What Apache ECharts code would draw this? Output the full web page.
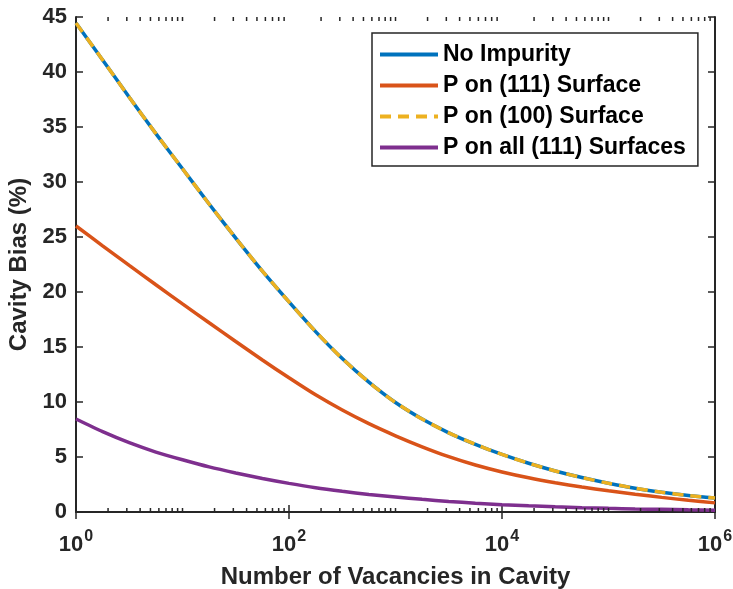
<!DOCTYPE html>
<html>
<head>
<meta charset="utf-8">
<script src="https://cdn.jsdelivr.net/npm/echarts/dist/echarts.min.js"></script>
<style>
html,body{margin:0;padding:0;background:#fff;}
#chart{width:733px;height:589px;}
</style>
</head>
<body>
<div id="chart"></div>
<script>
// Number of vacancies (x values, log scale)
const vacancies = [1, 1.778, 3.162, 5.623, 10, 17.78, 31.62, 56.23, 100, 177.8, 316.2, 562.3,
  1000, 1778, 3162, 5623, 10000, 17783, 31623, 56234, 100000, 177828, 316228, 562341, 1000000];
const noImpurity = [44.45, 41.1, 37.7, 34.4, 31.2, 28.0, 24.9, 21.9, 19.1, 16.4, 13.95, 11.8,
  9.95, 8.45, 7.2, 6.15, 5.23, 4.43, 3.73, 3.13, 2.61, 2.16, 1.8, 1.5, 1.27];
const pOn111 = [26.0, 24.2, 22.42, 20.66, 18.92, 17.2, 15.5, 13.82, 12.2, 10.65, 9.27, 8.03,
  6.93, 5.93, 5.03, 4.27, 3.64, 3.11, 2.66, 2.27, 1.93, 1.62, 1.33, 1.06, 0.83];
const pOn100 = [44.45, 41.1, 37.7, 34.4, 31.2, 28.0, 24.9, 21.9, 19.1, 16.4, 13.95, 11.8,
  9.95, 8.45, 7.2, 6.15, 5.23, 4.43, 3.73, 3.13, 2.61, 2.16, 1.8, 1.5, 1.27];
const pOnAll111 = [8.45, 7.3, 6.3, 5.45, 4.75, 4.1, 3.55, 3.05, 2.6, 2.2, 1.88, 1.6,
  1.37, 1.15, 0.96, 0.8, 0.67, 0.56, 0.47, 0.39, 0.33, 0.28, 0.24, 0.2, 0.17];
const seriesNames = ['No Impurity', 'P on (111) Surface', 'P on (100) Surface', 'P on all (111) Surfaces'];
const seriesColors = ['#0072BD', '#D95319', '#EDB120', '#7E2F8E'];

// Axis ticks
const xMajorTicks = [1, 100, 10000, 1000000];
const xMinorTicks = [2,3,4,5,6,7,8,9, 10,20,30,40,50,60,70,80,90,
  200,300,400,500,600,700,800,900, 1000,2000,3000,4000,5000,6000,7000,8000,9000,
  20000,30000,40000,50000,60000,70000,80000,90000,
  100000,200000,300000,400000,500000,600000,700000,800000,900000];
const yMin = 0, yMax = 45, yStep = 5;

const FONT = "'Liberation Sans', Arial, Helvetica, sans-serif";
const AX = '#262626';

function pairs(xs, ys) { return xs.map((x, i) => [x, ys[i]]); }

const chart = echarts.init(document.getElementById('chart'), null, {renderer: 'canvas'});

const lineBase = {
  type: 'line', showSymbol: false, symbol: 'none', smooth: 0.25,
  xAxisIndex: 0, yAxisIndex: 0, animation: false
};

const xAxisCommon = {
  type: 'log', logBase: 10, min: 1, max: 1000000,
  splitLine: {show: false},
  axisLine: {show: true, lineStyle: {color: AX, width: 2}},
  axisTick: {show: true, inside: true, length: 7, lineStyle: {color: AX, width: 1.5}, customValues: xMajorTicks},
  minorTick: {show: false}
};

const yAxisCommon = {
  type: 'value', min: yMin, max: yMax, interval: yStep,
  splitLine: {show: false},
  axisLine: {show: true, lineStyle: {color: AX, width: 2}},
  axisTick: {show: true, inside: true, length: 7, lineStyle: {color: AX, width: 1.5}}
};

chart.setOption({
  animation: false,
  backgroundColor: '#fff',
  grid: {left: 76, right: 18, top: 17, bottom: 77, containLabel: false, outerBoundsMode: 'none'},
  legend: {
    orient: 'vertical', left: 372, top: 33,
    itemWidth: 58, itemHeight: 14, itemGap: 8,
    padding: [10, 12, 7, 6],
    borderColor: AX, borderWidth: 1.5, backgroundColor: '#fff',
    itemStyle: {opacity: 0},
    lineStyle: {width: 4},
    textStyle: {fontFamily: FONT, fontSize: 23, fontWeight: 'bold', color: '#000'},
    data: seriesNames
  },
  xAxis: [
    Object.assign({}, xAxisCommon, {
      position: 'bottom',
      name: 'Number of Vacancies in Cavity', nameLocation: 'middle', nameGap: 53,
      nameTextStyle: {fontFamily: FONT, fontSize: 24, fontWeight: 'bold', color: AX},
      axisLabel: {
        show: true, margin: 17, customValues: xMajorTicks,
        formatter: function (v) { return '{b|10}{s|' + Math.round(Math.log10(v)) + '}'; },
        rich: {
          b: {fontFamily: FONT, fontSize: 22, fontWeight: 'bold', color: AX, verticalAlign: 'bottom'},
          s: {fontFamily: FONT, fontSize: 16, fontWeight: 'bold', color: AX, verticalAlign: 'bottom', padding: [0, 0, 11, 1]}
        }
      }
    }),
    Object.assign({}, xAxisCommon, {position: 'top', axisLabel: {show: false}})
  ],
  yAxis: [
    Object.assign({}, yAxisCommon, {
      position: 'left',
      name: 'Cavity Bias (%)', nameLocation: 'middle', nameGap: 33,
      nameTextStyle: {fontFamily: FONT, fontSize: 24, fontWeight: 'bold', color: AX},
      axisLabel: {show: true, margin: 9, fontFamily: FONT, fontSize: 22, fontWeight: 'bold', color: AX}
    }),
    Object.assign({}, yAxisCommon, {position: 'right', axisLabel: {show: false}})
  ],
  series: [
    Object.assign({}, lineBase, {name: seriesNames[0], data: pairs(vacancies, noImpurity),
      color: seriesColors[0], lineStyle: {color: seriesColors[0], width: 3.5}, z: 2}),
    Object.assign({}, lineBase, {name: seriesNames[1], data: pairs(vacancies, pOn111),
      color: seriesColors[1], lineStyle: {color: seriesColors[1], width: 3.5}, z: 2}),
    Object.assign({}, lineBase, {name: seriesNames[2], data: pairs(vacancies, pOn100),
      color: seriesColors[2], lineStyle: {color: seriesColors[2], width: 3.5, type: [11, 7]}, z: 3}),
    Object.assign({}, lineBase, {name: seriesNames[3], data: pairs(vacancies, pOnAll111),
      color: seriesColors[3], lineStyle: {color: seriesColors[3], width: 3.5}, z: 2}),
    {
      type: 'custom', name: 'minorTicks', xAxisIndex: 0, yAxisIndex: 0, silent: true, z: 4,
      data: xMinorTicks.map(v => [v, yMin]),
      renderItem: function (params, api) {
        const x = api.value(0);
        const b = api.coord([x, yMin]);
        const t = api.coord([x, yMax]);
        const st = {stroke: AX, lineWidth: 1.5};
        return {type: 'group', children: [
          {type: 'line', shape: {x1: b[0], y1: b[1], x2: b[0], y2: b[1] - 4}, style: st},
          {type: 'line', shape: {x1: t[0], y1: t[1], x2: t[0], y2: t[1] + 4}, style: st}
        ]};
      }
    }
  ]
});
</script>
</body>
</html>
